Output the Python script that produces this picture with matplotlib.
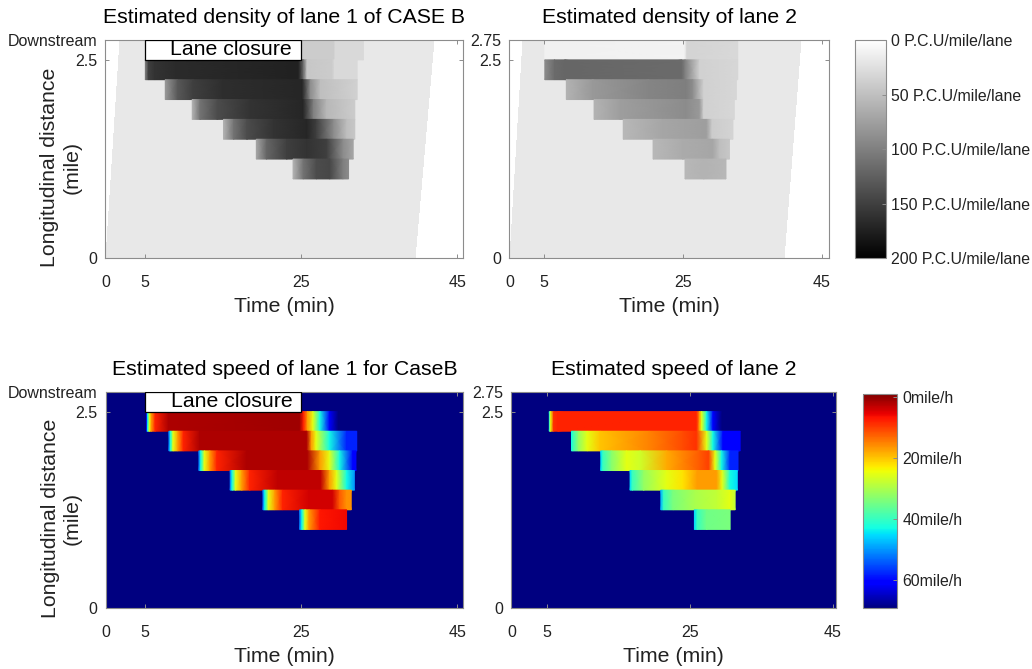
import numpy as np
import matplotlib
matplotlib.use("Agg")
import matplotlib.pyplot as plt
from matplotlib.colors import Normalize
from matplotlib.cm import ScalarMappable
from matplotlib.patches import Rectangle

plt.rcParams["font.family"] = ["Liberation Sans", "DejaVu Sans"]

# ==================== DATA ====================
# space cells (mile), top cell first
ROW_TOP = [2.75, 2.5, 2.25, 2.0, 1.75, 1.5, 1.25]
ROW_BOTTOM = [2.5, 2.25, 2.0, 1.75, 1.5, 1.25, 1.0]

# lane closure on lane 1 (min / mile)
CLOSURE_T = [5, 25]
CLOSURE_Y = [2.5, 2.75]
CLOSURE_TEXT_T = 16.1

# free traffic: first / last vehicle time at 0 mile and at 2.75 mile
FLOW_START_T = [0.1, 1.9]
FLOW_END_T = [39.6, 42.0]
DENS_FREE = 18    # P.C.U/mile/lane
SPEED_FREE = 69   # mile/h

# lane 1 density, knot times (min) and values per cell (None = free)
dens1_t = [
    [24.9, 29.2, 29.4, 33.0],
    [5.1, 5.5, 6.3, 9.0, 24.7, 25.3, 25.8, 29.0, 29.3, 32.2],
    [7.65, 9.2, 11.2, 15.0, 25.2, 26.2, 27.5, 32.2],
    [11.1, 12.1, 14.3, 18.5, 25.3, 26.6, 28.3, 31.9],
    [15.1, 16.4, 18.1, 21.5, 25.8, 27.0, 29.2, 30.9, 31.9],
    [19.3, 20.6, 23.2, 25.8, 28.3, 30.4, 31.7],
    [24.0, 25.3, 27.0, 28.7, 30.4, 31.1],
]
dens1_v = [
    [40, 40, 30, 30],
    [100, 150, 160, 166, 174, 120, 44, 40, 30, 30],
    [80, 130, 150, 164, 170, 90, 50, 36],
    [60, 110, 140, 160, 170, 100, 56, 40],
    [60, 110, 140, 160, 170, 150, 90, 50, 44],
    [70, 120, 150, 160, 150, 90, 70],
    [60, 110, 140, 144, 100, 90],
]

# lane 2 density
dens2_t = [
    [5.1, 25.2, 25.6, 32.9],
    [5.1, 6.5, 8.0, 24.8, 25.3, 27.4, 32.9],
    [8.2, 12.0, 20.0, 25.5, 26.4, 28.0, 32.7],
    [12.2, 16.0, 25.5, 27.4, 28.0, 32.4],
    [16.4, 22.0, 28.4, 29.2, 32.2],
    [20.7, 25.0, 29.3, 30.3, 31.7],
    [25.3, 28.0, 31.2],
]
dens2_v = [
    [11, 10, 34, 30],
    [90, 116, 120, 116, 100, 36, 32],
    [60, 80, 96, 100, 90, 36, 32],
    [60, 76, 90, 80, 36, 32],
    [56, 70, 76, 40, 34],
    [56, 66, 70, 50, 44],
    [56, 60, 56],
]

# lane 1 speed (mile/h)
speed1_t = [
    None,
    [5.2, 5.35, 5.55, 5.8, 6.3, 8.0, 24.8, 25.3, 25.8, 26.5, 27.4, 28.6, 29.7],
    [8.06, 8.25, 8.6, 9.2, 9.9, 12.0, 25.7, 26.3, 26.9, 28.6, 30.8, 32.1],
    [11.9, 12.15, 12.6, 13.3, 14.2, 18.0, 25.8, 27.4, 28.6, 29.9, 31.6, 32.0],
    [15.9, 16.15, 16.6, 17.4, 18.4, 22.0, 27.5, 28.6, 29.5, 30.8, 31.8],
    [20.1, 20.35, 20.8, 21.6, 22.6, 26.0, 29.0, 29.9, 30.8, 31.4],
    [24.8, 25.1, 25.5, 26.0, 27.4, 30.8],
]
speed1_v = [
    None,
    [61, 43, 25, 17, 8, 2, 1, 8, 17, 25, 43, 61, 69],
    [52, 43, 25, 17, 8, 2, 2, 17, 25, 43, 58, 58],
    [52, 43, 25, 17, 8, 2, 2, 17, 25, 43, 61, 61],
    [52, 43, 25, 17, 8, 3, 3, 17, 25, 43, 50],
    [52, 43, 25, 17, 8, 4, 4, 12, 16, 16],
    [52, 43, 25, 17, 7, 6],
]

# lane 2 speed
speed2_t = [
    None,
    [5.3, 5.45, 5.9, 6.5, 25.9, 26.3, 26.6, 27.3, 28.2, 29.4],
    [8.4, 8.6, 9.4, 10.6, 12.4, 19.3, 24.0, 25.9, 27.3, 28.2, 29.6, 32.0],
    [12.5, 12.8, 14.0, 16.1, 18.0, 21.7, 26.4, 27.6, 28.5, 29.4, 30.6, 31.7],
    [16.6, 16.9, 18.5, 21.7, 24.0, 26.0, 28.7, 29.5, 30.6, 31.6],
    [20.9, 21.3, 22.6, 25.7, 28.7, 30.6, 31.3],
    [25.6, 26.0, 27.3, 30.6],
]
speed2_v = [
    None,
    [43, 25, 9, 8, 8, 17, 25, 43, 61, 69],
    [43, 40, 32, 25, 20, 15, 11, 9, 25, 43, 61, 61],
    [45, 40, 33, 25, 27, 18, 12, 10, 25, 43, 58, 58],
    [45, 40, 32, 25, 22, 17, 17, 25, 43, 45],
    [48, 40, 34, 30, 28, 25, 28],
    [45, 40, 35, 34],
]

X_MAX = [45.7, 46.0, 45.7, 45.4]
X_TICKS = [0, 5, 25, 45]
Y_TICKS = [0, 2.5, 2.75]
DENS_TICKS = [0, 50, 100, 150, 200]
SPEED_TICKS = [0, 20, 40, 60]

FRAME = "#8c8c8c"
TEXT = "#222222"

dens_norm = Normalize(0, 200)
speed_norm = Normalize(-1, 69)


def draw_cells(ax, rows_t, rows_v, cmap, norm):
    for top, bottom, t, v in zip(ROW_TOP, ROW_BOTTOM, rows_t, rows_v):
        if t is None:
            continue
        X = np.array([t, t], dtype=float)
        Y = np.array([[bottom] * len(t), [top] * len(t)], dtype=float)
        C = np.array([v, v], dtype=float)
        ax.pcolormesh(X, Y, C, cmap=cmap, norm=norm, shading="gouraud")


def draw_free_density(ax):
    X = np.array([[FLOW_START_T[0], FLOW_END_T[0]], [FLOW_START_T[1], FLOW_END_T[1]]])
    Y = np.array([[0, 0], [2.75, 2.75]])
    ax.pcolormesh(X, Y, np.array([[DENS_FREE]]), cmap="gray_r", norm=dens_norm,
                  shading="flat")


def draw_free_speed(ax, xmax):
    X = np.array([[0, xmax], [0, xmax]])
    Y = np.array([[0, 0], [2.75, 2.75]])
    ax.pcolormesh(X, Y, np.array([[SPEED_FREE]]), cmap="jet_r", norm=speed_norm,
                  shading="flat")


def draw_closure(ax):
    ax.add_patch(Rectangle((CLOSURE_T[0], CLOSURE_Y[0]), CLOSURE_T[1] - CLOSURE_T[0],
                           CLOSURE_Y[1] - CLOSURE_Y[0], facecolor="white",
                           edgecolor="black", lw=0.9, zorder=3))
    ax.text(CLOSURE_TEXT_T, sum(CLOSURE_Y) / 2, "Lane closure", ha="center",
            va="center", fontsize=15.3, color="black", zorder=4)


def style_axes(ax, xmax, first_col, title):
    ax.set_xlim(0, xmax)
    ax.set_ylim(0, 2.75)
    ax.set_xticks(X_TICKS)
    ax.set_xticklabels([str(v) for v in X_TICKS])
    ax.set_yticks(Y_TICKS)
    if first_col:
        ax.set_yticklabels(["0", "2.5", "Downstream"])
        ax.set_ylabel("Longitudinal distance\n(mile)", fontsize=15.3, color=TEXT)
        ax.yaxis.set_label_coords(-0.068, 0.415)
    else:
        ax.set_yticklabels(["0", "2.5", "2.75"])
    ax.set_xlabel("Time (min)", fontsize=15.3, color=TEXT, labelpad=5)
    ax.set_title(title, fontsize=15.3, color="black", pad=12)
    ax.tick_params(axis="both", direction="in", length=3, width=0.7, colors=FRAME,
                   labelcolor=TEXT, labelsize=11.5, top=True, right=True)
    ax.tick_params(axis="x", pad=12)
    ax.tick_params(axis="y", pad=6)
    for s in ax.spines.values():
        s.set_color(FRAME)
        s.set_linewidth(0.8)


def add_colorbar(fig, rect, cmap, norm, ticks, labels):
    cax = fig.add_axes(rect)
    cb = fig.colorbar(ScalarMappable(norm=norm, cmap=cmap), cax=cax, ticks=ticks)
    cb.ax.invert_yaxis()
    cb.set_ticklabels(labels)
    cb.outline.set_edgecolor(FRAME)
    cb.outline.set_linewidth(0.8)
    cb.ax.tick_params(direction="in", length=3, width=0.7, colors=FRAME,
                      labelcolor=TEXT, labelsize=11.4, pad=4)


fig = plt.figure(figsize=(10.32, 6.69), dpi=100)

# Density lane 1
ax1 = fig.add_axes([0.1022, 0.6139, 0.3461, 0.3263])
draw_free_density(ax1)
draw_cells(ax1, dens1_t, dens1_v, "gray_r", dens_norm)
draw_closure(ax1)
style_axes(ax1, X_MAX[0], True, "Estimated density of lane 1 of CASE B")

# Density lane 2
ax2 = fig.add_axes([0.4936, 0.6139, 0.3094, 0.3263])
draw_free_density(ax2)
draw_cells(ax2, dens2_t, dens2_v, "gray_r", dens_norm)
style_axes(ax2, X_MAX[1], False, "Estimated density of lane 2")

# Speed lane 1
ax3 = fig.add_axes([0.1027, 0.0912, 0.3459, 0.3229])
draw_free_speed(ax3, X_MAX[2])
draw_cells(ax3, speed1_t, speed1_v, "jet_r", speed_norm)
draw_closure(ax3)
style_axes(ax3, X_MAX[2], True, "Estimated speed of lane 1 for CaseB")

# Speed lane 2
ax4 = fig.add_axes([0.4956, 0.0912, 0.3144, 0.3229])
draw_free_speed(ax4, X_MAX[3])
draw_cells(ax4, speed2_t, speed2_v, "jet_r", speed_norm)
style_axes(ax4, X_MAX[3], False, "Estimated speed of lane 2")

add_colorbar(fig, [0.8285, 0.6139, 0.0296, 0.3263], "gray_r", dens_norm, DENS_TICKS,
             [f"{v} P.C.U/mile/lane" for v in DENS_TICKS])
add_colorbar(fig, [0.836, 0.0912, 0.0332, 0.32], "jet_r", speed_norm, SPEED_TICKS,
             [f"{v}mile/h" for v in SPEED_TICKS])

fig.savefig("out.png", dpi=100)
